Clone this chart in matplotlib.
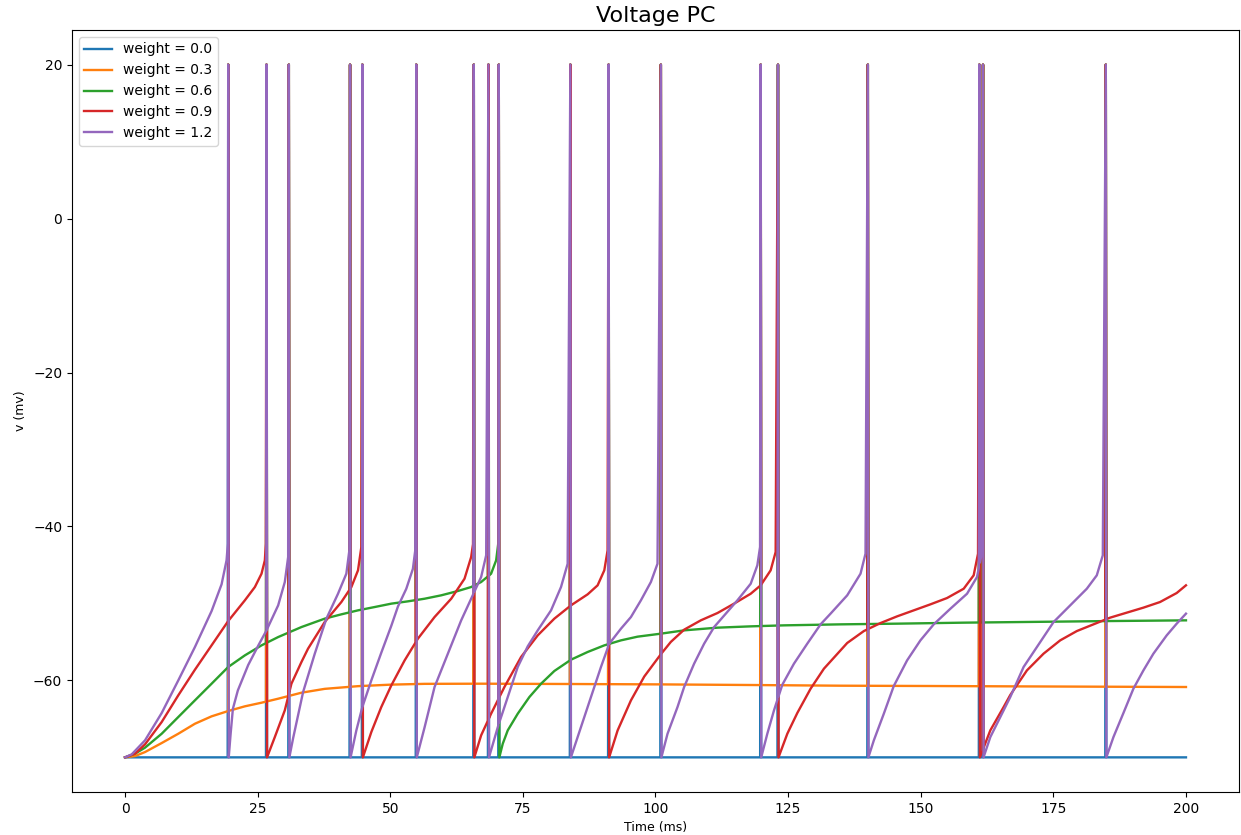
import numpy as np
import matplotlib
matplotlib.use("Agg")
import matplotlib.pyplot as plt

# Synaptic weights of the five runs and their line colours
weights = [0.0, 0.3, 0.6, 0.9, 1.2]
colors = ["#1f77b4", "#ff7f0e", "#2ca02c", "#d62728", "#9467bd"]

V_RESET = -70.0   # mV, reset / resting potential
V_PEAK = 20.0     # mV, value written at spike samples
DT = 0.1          # ms, integration step

# Spike times (ms) of each run
spikes_w00 = []
spikes_w03 = []
spikes_w06 = [70.46]
spikes_w09 = [26.67, 44.74, 65.75, 91.16, 123.09, 161.05]
spikes_w12 = [19.45, 30.88, 42.42, 54.90, 68.51, 83.95, 101.01, 119.83,
              140.03, 161.74, 184.89]

# Sub-threshold membrane potential samples (ms, mV)
t_w00 = [0.0, 200.0]
v_w00 = [-70.0, -70.0]

t_w03 = [0.0, 1.89, 3.77, 6.91, 10.04, 13.18, 16.32, 19.45, 22.59, 25.73,
         28.87, 33.26, 37.64, 43.92, 50.20, 56.47, 67.13, 84.07, 101.01,
         117.95, 134.89, 151.83, 168.76, 200.0]
v_w03 = [-70.0, -69.83, -69.31, -68.14, -66.93, -65.63, -64.67, -63.98,
         -63.37, -62.90, -62.38, -61.60, -61.10, -60.75, -60.55, -60.45,
         -60.43, -60.47, -60.52, -60.60, -60.69, -60.73, -60.78, -60.86]

t_w06 = [0.0, 1.89, 3.77, 6.91, 10.04, 13.18, 16.32, 19.45, 22.59, 25.73,
         28.87, 33.26, 37.64, 40.78, 43.92, 47.06, 50.20, 53.33, 56.47,
         59.60, 62.74, 65.25, 67.13, 69.01, 69.96, 70.36,
         71.21, 72.15, 74.03, 76.23, 78.43, 80.93, 84.07, 87.21, 90.35,
         93.49, 96.62, 101.01, 105.40, 111.68, 117.95, 124.22, 134.89,
         145.55, 158.10, 168.76, 185.70, 200.0]
v_w06 = [-70.0, -69.52, -68.74, -66.93, -64.76, -62.59, -60.43, -58.26,
         -56.75, -55.45, -54.37, -53.07, -51.98, -51.42, -50.90, -50.47,
         -50.03, -49.73, -49.39, -48.95, -48.39, -47.87, -47.22, -46.14,
         -44.40, -42.20,
         -68.22, -66.49, -64.33, -62.16, -60.43, -58.78, -57.31, -56.31,
         -55.45, -54.80, -54.32, -53.93, -53.50, -53.15, -52.98, -52.85,
         -52.72, -52.63, -52.50, -52.42, -52.29, -52.20]

t_w09 = [0.0, 1.89, 3.77, 6.91, 10.04, 13.18, 16.32, 19.45, 22.59, 24.48,
         25.73, 26.36, 26.55,
         28.24, 30.12, 31.37, 33.26, 34.50, 37.64, 40.78, 42.67, 43.92, 44.55,
         46.43, 48.31, 50.20, 52.71, 55.21, 58.35, 61.49, 64.00, 65.25, 65.60,
         67.13, 69.01, 71.52, 74.66, 77.80, 80.93, 84.07, 87.21, 89.09, 90.35,
         90.97,
         92.86, 95.37, 97.88, 101.01, 102.89, 105.40, 108.54, 111.68,
         114.81, 117.95, 119.83, 121.71, 122.65,
         124.85, 126.73, 129.24, 131.75, 134.89, 136.14, 139.28, 142.42,
         145.55, 148.69, 151.83, 154.96, 158.10, 159.98, 160.80,
         163.12, 165.63, 166.88, 170.02, 173.15, 176.29, 179.43, 182.56,
         185.70, 188.84, 191.98, 195.11, 198.25, 200.0]
v_w09 = [-70.0, -69.52, -68.31, -65.41, -61.94, -58.61, -55.45, -52.29,
         -49.60, -47.87, -46.14, -44.40, -42.24,
         -67.36, -63.89, -60.43, -57.61, -55.88, -52.42, -49.82, -47.87,
         -45.70, -42.67,
         -66.71, -63.46, -60.65, -57.40, -54.58, -51.77, -49.39, -46.79,
         -43.97, -42.30,
         -67.14, -64.33, -60.86, -56.96, -54.15, -51.98, -50.25, -48.82,
         -47.65, -45.70, -43.11,
         -66.50, -62.60, -59.50, -56.60, -55.00, -53.41, -52.20,
         -51.25, -50.03, -48.74, -47.65, -45.70, -43.32,
         -66.93, -64.24, -61.08, -58.48, -56.10, -55.14, -53.59, -52.55,
         -51.68, -50.90, -50.12, -49.30, -48.09, -46.35, -43.54,
         -66.49, -63.46, -61.90, -58.70, -56.53, -54.80, -53.59, -52.72,
         -51.85, -51.20, -50.55, -49.82, -48.65, -47.65]

t_w12 = [0.0, 1.26, 3.77, 6.91, 10.04, 13.18, 16.32, 18.20, 19.14, 19.39,
         19.90, 20.33, 21.27, 23.22, 25.10, 26.67, 28.87, 30.12, 30.75,
         31.69, 32.63, 33.57, 35.77, 37.96, 40.15, 41.72, 42.29,
         43.61, 44.74, 46.43, 48.31, 50.20, 51.45, 53.02, 54.27, 54.71,
         56.47, 58.35, 60.86, 63.37, 65.25, 67.13, 68.08,
         70.27, 72.15, 74.03, 75.92, 77.80, 80.31, 82.19, 83.44,
         85.95, 87.83, 89.72, 91.29, 93.49, 95.37, 97.25, 99.13, 100.38,
         102.27, 104.15, 105.40, 107.28, 109.17, 111.05, 115.44, 117.95,
         119.20, 119.71,
         121.08, 122.34, 123.91, 126.10, 128.61, 131.12, 133.00, 136.14,
         138.65, 139.59,
         141.16, 143.04, 144.92, 147.43, 149.94, 152.45, 155.59, 158.73,
         160.61, 161.36,
         163.12, 165.00, 166.88, 169.39, 171.90, 175.04, 178.17, 181.31,
         183.19, 184.32,
         186.33, 188.21, 190.09, 191.98, 193.86, 196.37, 198.25, 200.0]
v_w12 = [-70.0, -69.61, -67.79, -64.24, -60.00, -55.66, -50.99, -47.52,
         -44.40, -42.24,
         -67.00, -63.70, -61.30, -58.00, -55.50, -53.50, -50.25, -47.22,
         -43.97,
         -67.50, -64.50, -61.51, -56.53, -51.98, -48.74, -46.14, -43.11,
         -66.49, -63.46, -60.00, -56.40, -52.90, -50.40, -48.10, -45.50,
         -43.11,
         -66.10, -60.86, -56.53, -52.20, -49.39, -46.57, -43.75,
         -66.06, -62.16, -58.26, -55.57, -53.50, -50.90, -47.87, -44.84,
         -66.06, -62.16, -58.26, -55.23, -53.28, -51.77, -49.60, -47.22,
         -44.84,
         -66.93, -63.46, -60.86, -57.83, -55.23, -53.07, -49.60, -47.44,
         -45.05, -42.67,
         -66.93, -63.89, -60.56, -57.83, -55.23, -52.72, -51.33, -48.95,
         -46.14, -43.54,
         -67.79, -64.33, -60.73, -57.40, -54.80, -52.72, -50.69, -48.74,
         -46.57, -43.97,
         -67.36, -64.76, -62.16, -58.26, -55.66, -52.42, -50.25, -48.09,
         -46.35, -43.75,
         -67.36, -64.24, -61.08, -58.70, -56.53, -54.15, -52.63, -51.33]

runs = [
    (t_w00, v_w00, spikes_w00),
    (t_w03, v_w03, spikes_w03),
    (t_w06, v_w06, spikes_w06),
    (t_w09, v_w09, spikes_w09),
    (t_w12, v_w12, spikes_w12),
]

# Spike samples are shared by every recorded trace
all_spikes = sorted(set(spikes_w00 + spikes_w03 + spikes_w06 +
                        spikes_w09 + spikes_w12))


def build_trace(t, v, own_spikes):
    """Insert spike peaks: own spikes reset to V_RESET, others return."""
    pts = [(ti, 0, vi) for ti, vi in zip(t, v)]
    for ts in own_spikes:
        pts.append((ts, 1, V_PEAK))
        pts.append((ts + DT, 1, V_RESET))
    pts.sort(key=lambda p: (p[0], p[1]))
    base_t = np.array([p[0] for p in pts])
    base_v = np.array([p[2] for p in pts])

    extra = []
    for ts in all_spikes:
        if ts in own_spikes:
            continue
        v_before = np.interp(ts - DT, base_t, base_v)
        v_after = np.interp(ts + DT, base_t, base_v)
        extra += [(ts - DT, 2, v_before), (ts, 2, V_PEAK), (ts + DT, 2, v_after)]
    pts = [(a, 0, c) for a, c in zip(base_t, base_v)] + extra
    pts.sort(key=lambda p: (p[0], p[1]))
    return np.array([p[0] for p in pts]), np.array([p[2] for p in pts])


fig = plt.figure(figsize=(12.41, 8.35), dpi=100)
ax = fig.add_axes([0.058, 0.0515, 0.9404, 0.9126])

for w, c, (t, v, sp) in zip(weights, colors, runs):
    tt, vv = build_trace(t, v, sp)
    ax.plot(tt, vv, color=c, linewidth=1.7, label=f"weight = {w:.1f}")

ax.set_xticks([0, 25, 50, 75, 100, 125, 150, 175, 200])
ax.set_yticks([-60, -40, -20, 0, 20])
ax.tick_params(labelsize=10)
ax.set_title("Voltage PC", fontsize=16)
ax.set_xlabel("Time (ms)", fontsize=9)
ax.set_ylabel("v (mv)", fontsize=9)
ax.legend(loc="upper left", fontsize=10)

fig.savefig("out.png", dpi=100)
